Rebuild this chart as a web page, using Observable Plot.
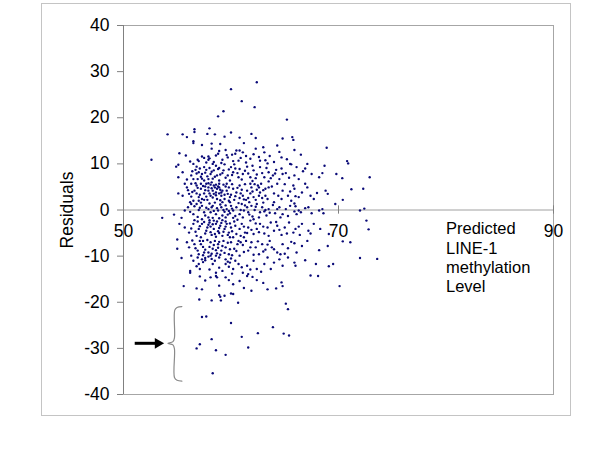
<!DOCTYPE html>
<html>
<head>
<meta charset="utf-8">
<script src="https://cdn.jsdelivr.net/npm/d3@7"></script>
<script src="https://cdn.jsdelivr.net/npm/@observablehq/plot@0.6"></script>
<style>
  html, body { margin: 0; padding: 0; background: #fff; }
</style>
</head>
<body>
<script>
// ---- data ----
const xTicks = [50, 70, 90];
const yTicks = [-40, -30, -20, -10, 0, 10, 20, 30, 40];
const yLabel = "Residuals";
const xLabel = "Predicted\nLINE-1\nmethylation\nLevel";

// [predicted LINE-1 methylation level, residual]
const points = [
  [62.4,27.7],[60.0,26.2],[61.0,23.6],[62.2,22.3],[59.3,21.4],[58.8,20.3],[65.2,19.6],
  [54.1,16.4],[55.5,16.4],[56.6,17.5],[56.6,16.9],[58.0,17.7],[55.9,15.8],[57.8,16.5],[58.5,16.4],[59.4,15.9],[60.0,16.8],[60.8,15.7],[61.9,16.5],[62.3,15.6],[64.8,15.5],[65.7,15.8],[65.8,15.2],[56.5,14.9],[56.5,14.5],[57.3,14.1],[58.2,14.4],[63.0,13.6],[64.3,14.0],[68.9,13.5],[59.0,14.3],[61.2,14.5],
  [55.2,12.3],[58.2,13.3],[58.8,12.2],[59.5,13.0],[60.1,12.0],[60.5,12.9],[61.1,12.5],[61.4,11.7],[61.8,11.1],[62.3,13.3],[63.1,12.5],[63.6,11.7],[64.7,11.4],[65.9,13.0],[66.5,12.0],[57.5,11.3],[57.9,10.9],[58.4,10.4],[59.2,10.9],[59.7,11.4],[60.7,10.7],[57.0,10.6],[57.9,11.6],[62.7,10.7],[63.4,10.1],[52.6,10.9],[60.8,12.9],
  [56.9,10.9],[57.3,11.6],[57.7,10.3],[58.0,11.2],[58.6,11.8],[59.1,10.2],[59.6,11.9],[60.2,10.6],[60.9,11.3],[61.4,10.3],[62.1,12.1],[62.6,11.5],[63.2,10.8],[64.0,10.4],[64.5,12.6],[65.2,11.0],[55.8,11.8],[56.2,10.5],[58.9,12.8],[60.4,12.2],
  [54.9,9.4],[55.1,9.8],[56.5,10.0],[56.8,9.4],[57.5,9.3],[58.3,10.0],[58.6,9.6],[58.9,9.1],[59.4,9.9],[60.0,9.3],[60.3,9.9],[60.8,8.9],[61.5,9.4],[62.1,8.6],[62.7,9.3],[63.5,8.2],[64.2,8.7],[64.8,7.8],[65.5,10.0],[65.6,9.9],[66.1,9.3],[67.1,10.0],[68.7,9.6],[68.5,8.0],[69.8,7.8],[70.35,6.9],[56.7,8.7],[57.0,8.2],[57.3,7.8],[57.7,8.7],[58.1,7.8],[58.4,8.6],[58.7,7.5],[59.2,8.0],[59.7,7.5],[60.2,8.2],[60.7,7.1],[61.1,7.8],[61.8,7.1],[62.4,7.7],[63.1,7.1],[63.9,7.5],[64.5,6.7],[65.1,8.0],[65.9,7.5],[66.3,6.7],[67.5,7.8],[68.2,7.1],[56.3,7.5],[56.5,6.7],[56.9,6.7],[57.5,6.4],[57.9,6.7],[58.9,6.4],[55.1,7.1],[55.7,5.7],[72.9,7.1],[70.8,10.6],[70.9,10.1],
  [56.4,8.4],[56.8,7.9],[57.1,9.0],[57.2,7.2],[57.6,8.1],[57.8,7.3],[58.0,9.1],[58.2,8.3],[58.5,7.2],[58.8,8.9],[59.0,7.7],[59.3,8.6],[59.5,7.0],[59.8,8.8],[60.1,7.6],[60.4,9.0],[60.6,8.0],[61.0,6.6],[61.3,8.5],[61.6,7.9],[62.0,9.6],[62.3,6.9],[62.9,8.0],[63.3,9.1],[63.7,6.9],[64.1,7.9],[65.4,7.0],[66.7,8.4],[55.5,8.2],[55.9,6.6],[57.3,6.8],[58.3,6.8],[59.9,6.4],[62.0,6.3],[63.5,6.2],[64.7,9.0],[66.9,9.0],
  [55.1,3.6],[55.9,4.9],[56.1,3.5],[56.3,5.7],[56.6,4.2],[56.8,5.3],[57.0,2.8],[57.2,4.6],[57.5,3.6],[57.7,5.7],[57.9,4.9],[58.1,3.1],[58.4,5.3],[58.6,3.8],[58.7,4.6],[58.9,5.7],[59.1,3.1],[59.2,4.2],[59.5,5.1],[59.7,3.5],[59.9,2.8],[60.2,4.6],[60.5,3.8],[60.8,5.3],[61.1,3.1],[61.5,4.2],[61.8,5.7],[62.1,2.8],[62.5,5.3],[62.6,4.9],[62.7,3.8],[63.0,4.3],[63.2,3.1],[63.5,4.9],[64.0,3.6],[64.3,5.7],[64.8,4.2],[65.3,3.1],[65.8,5.3],[65.9,4.6],[66.6,3.8],[67.1,4.9],[67.4,3.1],[67.7,2.4],[68.8,4.2],[69.0,3.5],[71.2,4.5],[72.3,4.6],[70.4,2.2],[57.0,2.0],[57.3,2.4],[57.8,2.2],[58.3,4.2],[58.7,2.4],[59.4,2.4],[59.8,2.0],[60.3,2.2],[60.8,2.6],[61.4,2.2],[61.8,3.6],[62.3,2.2],[63.4,2.4],[64.7,2.4],[65.6,2.0],[66.3,2.8],[55.5,3.1],[56.2,1.7],[56.5,2.0],[58.9,4.9],[57.6,5.1],[58.2,6.0],[58.6,5.5],[59.1,3.8],[58.4,3.5],[58.9,3.6],[59.6,4.2],[57.9,4.2],[57.2,5.7],[56.8,3.6],
  [56.0,4.3],[56.3,2.9],[56.7,5.8],[56.9,4.8],[57.1,3.3],[57.4,5.2],[57.6,4.3],[57.7,2.9],[57.9,5.8],[58.0,3.6],[58.2,4.7],[58.3,2.7],[58.5,4.9],[58.6,3.2],[58.8,5.1],[59.0,4.4],[59.0,2.1],[59.3,5.5],[59.4,3.3],[59.6,5.7],[59.8,4.9],[60.0,3.3],[60.1,5.6],[60.4,3.0],[60.6,4.8],[61.0,4.4],[61.3,5.6],[61.6,2.6],[61.9,4.9],[62.0,4.0],[62.2,5.6],[62.4,4.4],[62.6,3.1],[62.8,5.7],[62.9,2.6],[63.2,4.6],[63.8,5.1],[64.4,3.1],[65.0,5.6],[65.5,4.0],[66.0,3.0],[66.9,5.7],[68.0,3.7],[56.4,3.9],[57.5,2.2],[58.1,5.5],[60.9,3.6],[61.2,2.3],
  [53.6,-1.7],[54.7,-1.0],[55.7,-0.1],[56.0,0.6],[56.5,-0.9],[56.8,1.3],[57.0,0.0],[57.3,0.9],[57.6,-1.2],[57.9,0.2],[58.1,-0.5],[58.3,0.9],[58.6,-0.9],[58.8,-0.1],[59.1,0.6],[59.2,-1.2],[59.4,-0.4],[59.6,0.2],[59.9,-0.7],[60.0,0.9],[60.2,-0.1],[60.5,0.6],[60.8,-0.9],[61.0,1.3],[61.2,-0.1],[61.5,0.6],[61.7,-1.0],[61.9,0.9],[62.2,0.0],[62.4,1.3],[62.7,-0.5],[62.9,0.6],[63.1,-0.3],[63.3,-1.2],[63.5,0.2],[63.9,1.1],[64.1,-0.7],[64.5,0.6],[64.8,-0.9],[65.1,0.2],[65.5,0.9],[65.9,-0.3],[66.1,-0.9],[66.3,-0.1],[66.5,-0.5],[66.9,0.4],[67.5,-0.7],[68.2,-0.1],[68.5,0.2],[68.6,-0.7],[69.7,1.3],[72.0,-0.1],[72.4,0.3],[72.6,-2.3],[59.5,-1.6],[60.2,-1.7],[61.1,-1.6],[62.1,-2.0],[63.2,0.0],[58.3,-1.7],[57.3,-2.0],[56.3,1.3],[55.4,-1.7],[59.2,1.7],[61.7,1.7],[64.0,1.7],[65.9,1.4],
  [56.2,-0.4],[56.6,0.8],[56.9,-1.5],[57.2,1.6],[57.5,-0.5],[57.7,0.5],[57.9,-1.6],[58.0,1.4],[58.4,-0.2],[58.5,1.6],[58.7,0.4],[58.9,-1.8],[59.0,1.2],[59.3,0.0],[59.5,1.0],[59.7,-1.0],[59.9,1.7],[60.1,0.3],[60.4,-1.3],[60.7,1.5],[60.9,0.0],[61.3,1.0],[61.6,-0.5],[62.0,-1.4],[62.3,0.7],[62.6,-1.6],[63.0,1.6],[63.6,-0.6],[64.3,0.2],[64.6,-1.6],[65.3,-1.3],[66.0,0.8],[67.2,0.6],[57.1,0.5],[58.2,0.6],[59.8,-0.2],
  [55.2,-3.0],[55.0,-6.4],[55.7,-3.8],[56.1,-4.9],[56.5,-3.0],[56.8,-5.6],[57.0,-4.1],[57.3,-3.0],[57.6,-5.1],[57.8,-3.8],[58.0,-2.7],[58.2,-5.4],[58.4,-4.1],[58.6,-3.0],[58.8,-4.6],[59.0,-3.4],[59.2,-5.6],[59.4,-4.1],[59.6,-3.0],[59.8,-4.9],[60.0,-3.8],[60.3,-2.5],[60.5,-5.2],[60.8,-4.1],[61.0,-3.0],[61.3,-4.9],[61.6,-3.8],[61.8,-2.3],[62.1,-5.2],[62.4,-4.1],[62.7,-3.0],[63.1,-5.1],[63.4,-3.8],[63.7,-2.7],[64.0,-4.5],[64.3,-3.4],[64.7,-5.4],[65.0,-3.8],[65.4,-2.7],[65.8,-4.9],[66.0,-4.1],[66.3,-3.6],[66.6,-3.0],[67.2,-4.5],[67.4,-5.1],[67.7,-3.0],[68.3,-4.1],[69.1,-5.2],[70.4,-6.8],[71.1,-7.0],[72.8,-4.2],[58.4,-2.3],[59.5,-2.5],[56.9,-2.5],[58.6,-5.8],[59.9,-5.9],[61.2,-5.9],[58.9,-3.9],[58.1,-3.6],
  [56.3,-4.0],[56.6,-2.2],[56.7,-4.7],[57.1,-3.5],[57.2,-5.9],[57.5,-2.6],[57.7,-4.5],[57.9,-3.2],[58.1,-4.8],[58.3,-3.1],[58.5,-5.2],[58.7,-2.5],[58.9,-5.0],[59.1,-2.8],[59.3,-4.7],[59.5,-3.6],[59.7,-5.4],[59.9,-2.9],[60.1,-4.6],[60.4,-3.4],[60.6,-2.1],[60.9,-5.6],[61.2,-3.6],[61.5,-5.0],[61.9,-4.3],[62.3,-2.9],[62.6,-4.8],[63.0,-3.6],[63.5,-5.6],[64.2,-2.6],[64.5,-4.3],[65.2,-5.1],[66.4,-5.4],[58.0,-2.2],[59.2,-2.2],[60.2,-5.9],
  [55.0,-8.4],[55.4,-10.4],[55.9,-7.0],[56.1,-8.1],[56.3,-9.9],[56.6,-7.4],[56.9,-8.8],[57.1,-6.7],[57.4,-8.0],[57.6,-10.4],[57.9,-9.2],[58.1,-7.0],[58.3,-8.4],[58.6,-9.9],[58.8,-7.4],[59.1,-8.8],[59.3,-6.7],[59.5,-8.1],[59.8,-9.6],[60.0,-7.0],[60.3,-8.4],[60.6,-7.4],[60.8,-9.9],[61.1,-7.6],[61.4,-6.7],[61.6,-8.8],[61.9,-7.0],[62.3,-8.1],[62.6,-9.6],[62.9,-7.4],[63.2,-8.6],[63.6,-6.7],[63.8,-8.1],[64.3,-9.2],[64.6,-9.6],[64.8,-7.4],[65.3,-8.3],[65.9,-7.2],[66.1,-9.2],[66.6,-7.8],[67.1,-6.7],[68.2,-8.7],[69.0,-7.8],[57.9,-10.1],[57.3,-10.7],[58.9,-10.3],[59.5,-10.7],[59.7,-11.2],[59.9,-11.4],[60.7,-6.7],[58.1,-9.9],[58.7,-9.4],[58.5,-6.7],[57.4,-6.7],[57.5,-9.2],
  [56.4,-6.6],[56.7,-8.3],[57.0,-9.6],[57.2,-7.4],[57.6,-8.6],[57.8,-6.5],[58.0,-8.0],[58.2,-9.5],[58.4,-7.6],[58.6,-8.7],[58.9,-6.9],[59.0,-9.7],[59.2,-7.8],[59.4,-9.3],[59.7,-7.1],[59.9,-8.5],[60.1,-9.8],[60.5,-8.9],[60.9,-7.0],[61.2,-9.1],[61.8,-8.1],[62.1,-9.7],[62.5,-6.8],[63.0,-9.0],[63.4,-7.5],[64.0,-8.5],[65.0,-9.5],[65.6,-6.9],[58.8,-8.2],[57.4,-9.8],
  [56.5,-11.0],[57.0,-11.7],[57.1,-12.8],[57.6,-10.9],[58.3,-11.7],[58.9,-12.5],[59.5,-11.7],[60.2,-12.8],[60.7,-11.7],[61.1,-13.6],[61.5,-12.1],[62.1,-11.0],[62.4,-12.8],[63.1,-11.7],[63.7,-12.8],[64.0,-11.4],[64.5,-10.7],[64.8,-12.1],[65.9,-11.4],[66.0,-12.1],[66.9,-10.9],[67.9,-11.7],[69.5,-11.7],[69.1,-12.2],[72.0,-10.4],[73.6,-10.6],[56.2,-13.6],[56.2,-13.2],[58.6,-13.6],[60.1,-13.8],[61.6,-13.9],[63.4,-10.3],[65.3,-10.3],[56.9,-10.3],
  [56.8,-12.2],[57.4,-11.3],[58.0,-12.9],[58.5,-11.0],[59.2,-13.2],[59.8,-12.3],[60.4,-11.0],[61.0,-12.4],[61.8,-12.9],[62.8,-13.4],[58.2,-10.6],[60.0,-10.5],
  [55.6,-16.5],[56.8,-17.0],[57.3,-17.2],[58.1,-14.6],[58.6,-14.3],[58.7,-14.6],[59.5,-14.6],[60.2,-16.1],[60.8,-15.4],[61.5,-14.3],[62.4,-15.2],[63.4,-17.2],[64.2,-17.0],[64.7,-15.7],[64.8,-16.5],[67.4,-14.2],[68.1,-14.3],[70.1,-16.5],[60.2,-18.2],[59.0,-18.8],[60.0,-18.1],
  [57.6,-15.3],[58.9,-16.4],[59.8,-15.2],[61.2,-16.9],[62.0,-14.5],[63.0,-15.8],[57.1,-14.4],[61.9,-17.5],
  [57.05,-19.4],[58.2,-19.6],[59.06,-19.6],[60.66,-20.1],[65.1,-20.3],[65.3,-21.5],[59.4,-18.6],[58.9,-18.4],
  [57.3,-23.2],[57.7,-23.1],[60.0,-24.5],[62.5,-26.7],[63.9,-25.4],[64.9,-26.8],[65.4,-27.2],[61.0,-27.5],[58.2,-28.0],[57.1,-29.1],[56.8,-30.0],[58.6,-30.4],[59.5,-31.4],[61.6,-29.8],[58.3,-35.4]
];

// annotation: curly brace around the low-residual group and the arrow pointing at it
const brace = [
  [55.43,-20.95],[54.98,-21.12],[54.77,-21.7],[54.74,-27.7],[54.6,-28.55],[54.13,-28.9],
  [54.6,-29.25],[54.74,-30.1],[54.74,-36.3],[54.98,-36.93],[55.43,-37.1]
];
const arrowShaft = {x1: 51.09, x2: 53.2, y: -28.9};

const chart = Plot.plot({
  width: 600,
  height: 450,
  marginLeft: 123,
  marginRight: 47,
  marginTop: 25,
  marginBottom: 56,
  x: {domain: [50, 90], axis: null},
  y: {domain: [-40, 40]},
  style: {fontFamily: "'Liberation Sans', Arial, sans-serif", fontSize: "17px", background: "#fff", color: "#000"},
  marks: [
    Plot.frame({stroke: "#a6a6a6"}),
    Plot.ruleY([0], {stroke: "#a0a0a0"}),
    Plot.ruleX(xTicks, {y1: -0.9, y2: 0.9, stroke: "#808080"}),
    Plot.ruleX([50], {stroke: "#808080"}),
    Plot.axisY(yTicks, {tickSize: 6, tickPadding: 8, tickFormat: d => String(d), stroke: "#808080", fill: "#000", label: null, fontSize: 17.5}),
    Plot.text(xTicks, {x: d => d, y: () => 0, dy: 21, text: d => String(d), fontSize: 17.5, fill: "#000"}),
    Plot.dot(points, {x: d => d[0], y: d => d[1], r: 1.2, fill: "#0a0a78", stroke: "none"}),
    Plot.line(brace, {x: d => d[0], y: d => d[1], curve: "catmull-rom", stroke: "#8a8a8a", strokeWidth: 1.2}),
    Plot.ruleY([arrowShaft], {x1: "x1", x2: "x2", y: "y", stroke: "#000", strokeWidth: 3}),
    Plot.dot([arrowShaft], {x: "x2", y: "y", symbol: "triangle", rotate: 90, r: 4, fill: "#000", stroke: "none"}),
    Plot.text([yLabel], {frameAnchor: "left", textAnchor: "middle", rotate: -90, dx: -56, fontSize: 17.5, fill: "#000"}),
    Plot.text([xLabel], {x: () => 80, y: () => 0, dy: 10.5, textAnchor: "start", lineAnchor: "top", lineHeight: 1.17, fontSize: 16.5, fill: "#000"})
  ]
});

d3.select(chart).append("rect")
  .attr("x", 41.5).attr("y", 3.5).attr("width", 529).attr("height", 412)
  .attr("fill", "none").attr("stroke", "#c4c4c4");

document.body.appendChild(chart);
</script>
</body>
</html>
